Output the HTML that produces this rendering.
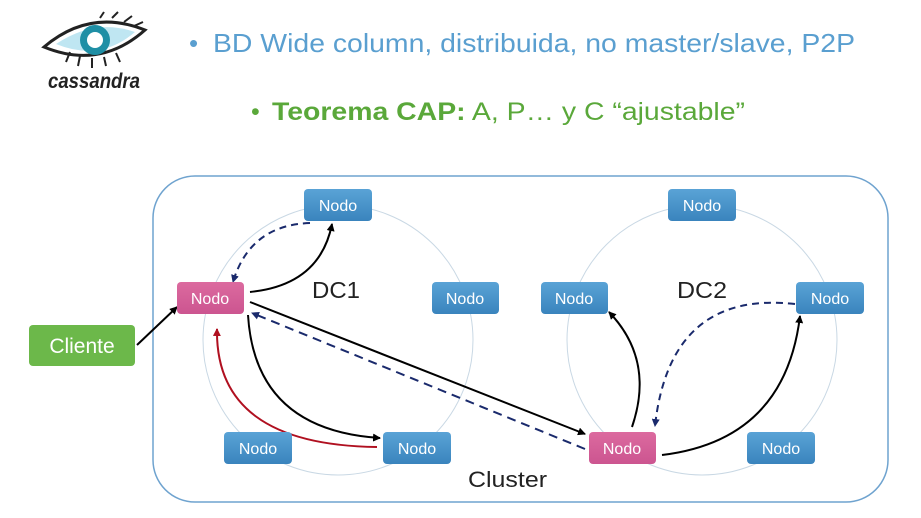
<!DOCTYPE html>
<html><head><meta charset="utf-8"><style>
html,body{margin:0;padding:0;background:#fff;}
svg{display:block;font-family:"Liberation Sans",sans-serif;}
</style></head><body>
<svg width="921" height="518" viewBox="0 0 921 518" xmlns="http://www.w3.org/2000/svg">
<defs>
<marker id="ab" markerWidth="8" markerHeight="8" refX="7" refY="4" orient="auto" markerUnits="userSpaceOnUse"><path d="M0,0 L8,4 L0,8 Z" fill="#000"/></marker>
<marker id="an" markerWidth="8" markerHeight="8" refX="7" refY="4" orient="auto" markerUnits="userSpaceOnUse"><path d="M0,0 L8,4 L0,8 Z" fill="#1a2a6c"/></marker>
<marker id="ar" markerWidth="8" markerHeight="8" refX="7" refY="4" orient="auto" markerUnits="userSpaceOnUse"><path d="M0,0 L8,4 L0,8 Z" fill="#b01020"/></marker>
<linearGradient id="gb" x1="0" y1="0" x2="0" y2="1"><stop offset="0" stop-color="#5aa3d6"/><stop offset="1" stop-color="#3a84bd"/></linearGradient>
<linearGradient id="gp" x1="0" y1="0" x2="0" y2="1"><stop offset="0" stop-color="#dc6a9f"/><stop offset="1" stop-color="#cc5590"/></linearGradient>
</defs>
<!-- logo -->
<path d="M44,47 Q90,8 145,30 Q100,70 44,47 Z" fill="#fff" stroke="#222" stroke-width="3"/>
<path d="M56,44 Q95,18 135,32 Q100,62 56,44 Z" fill="#bfe6f2"/>
<circle cx="95" cy="40" r="15" fill="#1f8fa5"/>
<circle cx="95" cy="40" r="8" fill="#fff"/>
<path d="M70,52 L66,62 M80,56 L78,66 M92,58 L92,68 M104,57 L106,66 M116,53 L120,62 M100,18 L104,12 M112,18 L118,12 M124,22 L132,16 M134,26 L143,22" stroke="#222" stroke-width="2"/>
<text x="48" y="88" font-size="21" font-style="italic" font-weight="bold" fill="#222" textLength="92" lengthAdjust="spacingAndGlyphs">cassandra</text>
<!-- titles -->
<text x="189" y="52" font-size="26" fill="#5a9fd0">•</text>
<text x="213" y="52" font-size="26" fill="#5a9fd0" textLength="642" lengthAdjust="spacingAndGlyphs">BD Wide column, distribuida, no master/slave, P2P</text>
<text x="251" y="120" font-size="25" fill="#5aa83a">•</text>
<text x="272" y="120" font-size="25" fill="#5aa83a" textLength="473" lengthAdjust="spacingAndGlyphs"><tspan font-weight="bold">Teorema CAP:</tspan> A, P… y C “ajustable”</text>
<!-- cluster -->
<rect x="153" y="176" width="735" height="326" rx="42" fill="none" stroke="#6fa3cf" stroke-width="1.5"/>
<circle cx="338" cy="340" r="135" fill="none" stroke="#c9d8e4" stroke-width="1"/>
<circle cx="702" cy="340" r="135" fill="none" stroke="#c9d8e4" stroke-width="1"/>
<text x="312" y="298" font-size="23" fill="#222" textLength="48" lengthAdjust="spacingAndGlyphs">DC1</text>
<text x="677" y="298" font-size="23" fill="#222" textLength="50" lengthAdjust="spacingAndGlyphs">DC2</text>
<text x="468" y="487" font-size="22" fill="#222" textLength="79" lengthAdjust="spacingAndGlyphs">Cluster</text>
<!-- arrows -->
<path d="M137,345 L177,307" stroke="#000" stroke-width="2" fill="none" marker-end="url(#ab)"/>
<path d="M250,292 Q320,285 332,224" stroke="#000" stroke-width="2" fill="none" marker-end="url(#ab)"/>
<path d="M310,223 Q250,225 233,282" stroke="#1a2a6c" stroke-width="2" stroke-dasharray="7,5" fill="none" marker-end="url(#an)"/>
<path d="M248,315 Q255,430 380,438" stroke="#000" stroke-width="2" fill="none" marker-end="url(#ab)"/>
<path d="M377,447 Q215,445 217,329" stroke="#b01020" stroke-width="2" fill="none" marker-end="url(#ar)"/>
<path d="M250,302 L585,434" stroke="#000" stroke-width="2" fill="none" marker-end="url(#ab)"/>
<path d="M585,449 L252,313" stroke="#1a2a6c" stroke-width="2" stroke-dasharray="9,6" fill="none" marker-end="url(#an)"/>
<path d="M632,427 Q655,360 609,312" stroke="#000" stroke-width="2" fill="none" marker-end="url(#ab)"/>
<path d="M662,455 Q785,440 800,316" stroke="#000" stroke-width="2" fill="none" marker-end="url(#ab)"/>
<path d="M795,304 Q670,290 655,426" stroke="#1a2a6c" stroke-width="2" stroke-dasharray="7,5" fill="none" marker-end="url(#an)"/>
<!-- nodes -->
<g font-size="16" fill="#fff" text-anchor="middle">
<rect x="304" y="189" width="68" height="32" rx="4" fill="url(#gb)"/><text x="338" y="211">Nodo</text>
<rect x="177" y="282" width="67" height="32" rx="4" fill="url(#gp)"/><text x="210" y="304">Nodo</text>
<rect x="432" y="282" width="67" height="32" rx="4" fill="url(#gb)"/><text x="465" y="304">Nodo</text>
<rect x="224" y="432" width="68" height="32" rx="4" fill="url(#gb)"/><text x="258" y="454">Nodo</text>
<rect x="383" y="432" width="68" height="32" rx="4" fill="url(#gb)"/><text x="417" y="454">Nodo</text>
<rect x="668" y="189" width="68" height="32" rx="4" fill="url(#gb)"/><text x="702" y="211">Nodo</text>
<rect x="541" y="282" width="67" height="32" rx="4" fill="url(#gb)"/><text x="574" y="304">Nodo</text>
<rect x="796" y="282" width="68" height="32" rx="4" fill="url(#gb)"/><text x="830" y="304">Nodo</text>
<rect x="589" y="432" width="67" height="32" rx="4" fill="url(#gp)"/><text x="622" y="454">Nodo</text>
<rect x="747" y="432" width="68" height="32" rx="4" fill="url(#gb)"/><text x="781" y="454">Nodo</text>
<rect x="29" y="325" width="106" height="41" rx="4" fill="#6cb84a"/><text x="82" y="353" font-size="21">Cliente</text>
</g>
</svg>
</body></html>
